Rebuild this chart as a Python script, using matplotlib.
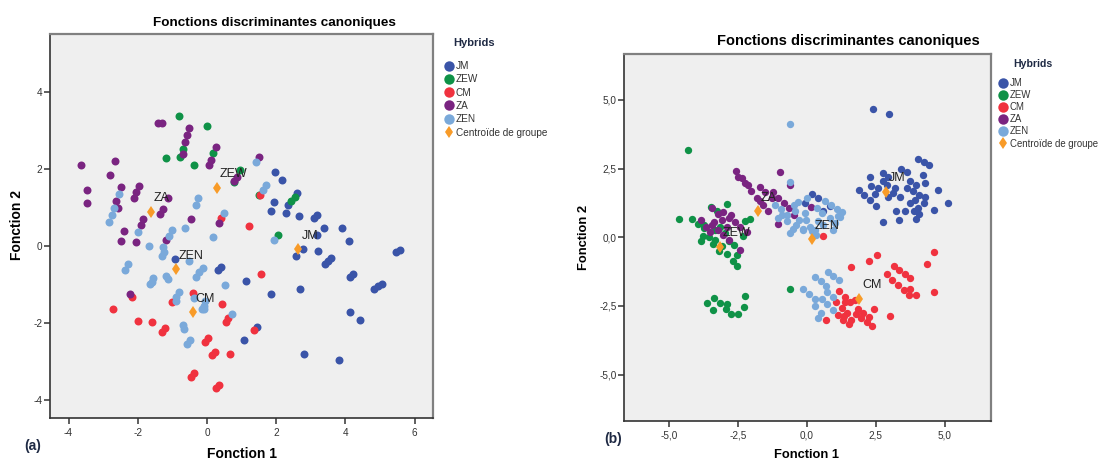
""" canonical discriminant function plots for two sets of hybrids """
from matplotlib import pyplot as plt
from matplotlib.lines import Line2D

plt.rcParams["font.family"] = ["Liberation Sans", "DejaVu Sans"]

WIDTH, HEIGHT = 1098, 462

groups = ["JM", "ZEW", "CM", "ZA", "ZEN"]
colors = ["#3a54a8", "#0f9247", "#f0323f", "#7a2481", "#7aa9da"]
centroid_label = "Centroïde de groupe"
centroid_color = "#f89b28"

# panel (a), values as (function 1, function 2)
a_jm = [(1.96, 1.93), (2.17, 1.70), (2.61, 1.38), (1.93, 1.14), (2.35, 1.06), (1.86, 0.91), (2.29, 0.84),
        (2.66, 0.78), (3.08, 0.71), (3.17, 0.81), (3.38, 0.46), (3.91, 0.46), (3.18, 0.29), (4.10, 0.13),
        (2.78, -0.08), (2.57, -0.26), (3.20, -0.13), (3.59, -0.32), (3.51, -0.40), (3.42, -0.48),
        (4.23, -0.74), (4.12, -0.80), (5.58, -0.10), (5.46, -0.16), (5.05, -0.99), (4.93, -1.05),
        (4.83, -1.12), (1.14, -0.91), (2.70, -1.11), (1.86, -1.25), (4.13, -1.72), (4.41, -1.93),
        (1.45, -2.12), (1.06, -2.44), (2.79, -2.82), (3.82, -2.97), (0.40, -0.54), (0.31, -0.63),
        (-0.93, -0.35)]
a_zew = [(-0.82, 3.36), (0.00, 3.11), (-0.70, 2.51), (-0.78, 2.30), (-1.18, 2.29), (-0.37, 2.09), (0.18, 2.40),
         (0.94, 1.97), (0.79, 1.67), (2.44, 1.17), (2.53, 1.28), (1.51, 1.32), (2.04, 0.28)]
a_cm = [(1.52, 1.32), (0.40, 0.72), (1.22, 0.51), (1.56, -0.74), (-2.16, -1.33), (-2.72, -1.65), (-2.00, -1.96),
        (-1.59, -1.98), (-1.20, -2.14), (-1.29, -2.25), (-1.00, -1.45), (-0.40, -1.23), (0.42, -1.50),
        (0.62, -1.88), (0.54, -1.97), (0.02, -2.40), (-0.06, -2.50), (0.22, -2.75), (0.14, -2.84), (0.66, -2.82),
        (-0.37, -3.31), (-0.45, -3.41), (0.35, -3.61), (0.25, -3.69), (1.36, -2.19)]
a_za = [(-3.63, 2.09), (-3.46, 1.45), (-3.48, 1.10), (-2.67, 2.20), (-2.80, 1.83), (-2.49, 1.52), (-2.62, 1.16),
        (-2.57, 0.99), (-1.97, 1.55), (-2.04, 1.39), (-2.11, 1.23), (-1.85, 0.69), (-1.92, 0.53), (-2.40, 0.38),
        (-1.14, 1.25), (-1.28, 0.96), (-1.36, 0.83), (-1.41, 3.18), (-1.30, 3.19), (-0.51, 3.07), (-0.58, 2.88),
        (-0.64, 2.70), (-0.68, 2.38), (0.26, 2.56), (0.12, 2.23), (0.05, 2.09), (-0.46, 0.70), (0.34, 0.59),
        (1.49, 2.30), (0.88, 1.80), (0.79, 1.69), (-2.47, 0.13), (-2.05, 0.11), (-1.18, 0.14), (-2.21, -1.25)]
a_zen = [(1.42, 2.18), (1.71, 1.57), (1.61, 1.44), (-2.54, 1.34), (-2.68, 0.97), (-2.75, 0.79), (-2.82, 0.61),
         (-0.25, 1.24), (-0.32, 1.06), (0.49, 0.86), (-0.64, 0.47), (-1.02, 0.41), (-1.10, 0.26), (-1.99, 0.37),
         (0.18, 0.22), (-1.67, 0.00), (-1.26, -0.02), (-1.24, -0.15), (-1.31, -0.26), (-2.28, -0.48), (-2.36, -0.64),
         (-0.51, -0.39), (-0.12, -0.58), (-0.22, -0.68), (-0.31, -0.80), (0.51, -1.02), (-1.55, -0.84), (-1.60, -0.93),
         (-1.65, -0.99), (-1.18, -0.78), (-1.14, -0.87), (-0.81, -1.20), (-0.90, -1.32), (-0.89, -1.42), (-0.37, -1.36),
         (-0.06, -1.43), (-0.09, -1.55), (-0.15, -1.64), (-0.08, -1.65), (0.73, -1.77), (-0.70, -2.05), (-0.67, -2.17),
         (-0.49, -2.45), (-0.59, -2.55), (1.95, 0.16)]
a_centroids = [(2.64, -0.08), (0.28, 1.51), (-0.41, -1.71), (-1.62, 0.89), (-0.90, -0.61)]
a_ticks_x = [-4, -2, 0, 2, 4, 6]
a_ticks_y = [-4, -2, 0, 2, 4]
a_ticklabels_x = ["-4", "-2", "0", "2", "4", "6"]
a_ticklabels_y = ["-4", "-2", "0", "2", "4"]

# panel (b)
b_jm = [(2.41, 4.67), (2.99, 4.48), (4.05, 2.84), (4.25, 2.74), (4.45, 2.63), (3.42, 2.48), (3.62, 2.38), (4.20, 2.26),
        (2.76, 2.33), (2.95, 2.21), (2.30, 2.18), (4.28, 1.99), (3.74, 2.04), (3.98, 1.91), (2.34, 1.86), (1.88, 1.72),
        (2.59, 1.78), (2.77, 2.03), (2.89, 1.91), (2.46, 1.57), (2.09, 1.53), (2.29, 1.35), (2.50, 1.15), (2.95, 1.45),
        (3.38, 1.45), (3.19, 1.78), (3.13, 1.60), (3.64, 1.81), (3.84, 1.69), (4.75, 1.71), (4.08, 1.54), (3.92, 1.36),
        (3.74, 1.26), (4.28, 1.45), (4.26, 1.24), (5.11, 1.26), (4.04, 1.06), (3.90, 0.97), (4.62, 1.00), (3.22, 0.95),
        (3.58, 0.94), (4.08, 0.84), (3.98, 0.66), (3.33, 0.61), (2.76, 0.55), (0.19, 1.57), (0.41, 1.42), (-0.06, 1.26),
        (0.83, 1.12), (0.59, 0.94)]
b_zew = [(-4.33, 3.16), (-4.64, 0.67), (-4.18, 0.66), (-3.98, 0.47), (-3.76, 0.33), (-3.74, 0.46), (-3.79, 0.03),
         (-3.86, -0.13), (-3.58, 0.01), (-3.34, -0.09), (-3.40, -0.25), (-3.50, 1.10), (-2.91, 1.22), (-3.28, 0.94),
         (-3.16, 0.39), (-3.34, 0.27), (-2.25, 0.59), (-2.08, 0.67), (-2.31, 0.03), (-2.64, -0.30), (-3.10, -0.33),
         (-3.19, -0.51), (-2.89, -0.60), (-2.53, -0.65), (-2.68, -0.85), (-2.54, -1.06), (-2.85, -0.15), (-2.97, 0.15),
         (-2.27, -2.14), (-3.37, -2.22), (-3.63, -2.39), (-3.18, -2.39), (-2.90, -2.42), (-3.42, -2.66), (-2.96, -2.60),
         (-2.30, -2.55), (-2.76, -2.78), (-2.49, -2.79), (-0.60, -1.87)]
b_cm = [(0.59, 0.05), (4.61, -0.55), (4.37, -0.98), (2.53, -0.66), (2.24, -0.87), (1.59, -1.08), (3.15, -1.06),
        (3.35, -1.21), (3.56, -1.34), (3.76, -1.49), (2.89, -1.34), (3.10, -1.54), (3.30, -1.72), (3.51, -1.91),
        (3.76, -1.89), (3.71, -2.09), (3.97, -2.11), (4.62, -1.99), (1.16, -1.97), (1.37, -2.17), (1.05, -2.37),
        (1.38, -2.37), (1.56, -2.34), (1.74, -2.28), (1.26, -2.57), (2.43, -2.62), (1.86, -2.62), (1.78, -2.79),
        (2.04, -2.74), (1.46, -2.74), (1.11, -2.82), (1.34, -2.88), (2.26, -2.91), (1.98, -2.94), (3.01, -2.85),
        (0.69, -3.02), (1.32, -3.00), (1.60, -3.02), (2.19, -3.09), (1.52, -3.17), (2.38, -3.22)]
b_za = [(-2.59, 2.41), (-2.49, 2.19), (-2.37, 2.16), (-2.24, 1.99), (-2.16, 1.89), (-2.03, 1.70), (-1.70, 1.83),
        (-1.52, 1.63), (-1.24, 1.63), (-0.97, 2.38), (-0.62, 1.91), (-1.83, 1.44), (-1.70, 1.33), (-1.61, 1.18),
        (-1.40, 0.94), (-1.04, 1.43), (-1.28, 1.43), (-0.83, 1.24), (-0.65, 1.05), (-1.05, 0.49), (0.13, 1.09),
        (-0.49, 0.82), (-3.45, 1.07), (-3.04, 0.93), (-3.22, 0.83), (-2.77, 0.81), (-2.84, 0.70), (-3.10, 0.62),
        (-3.87, 0.61), (-3.37, 0.55), (-3.46, 0.46), (-2.61, 0.54), (-3.66, 0.36), (-3.52, 0.18), (-3.25, 0.27),
        (-2.89, 0.37), (-2.43, 0.36), (-2.19, 0.18), (-3.06, 0.09), (-2.85, -0.09), (-2.43, -0.48)]
b_zen = [(-0.63, 2.01), (-0.62, 4.14), (-1.16, 1.18), (-0.95, 1.03), (-1.04, 0.70), (-0.92, 0.82), (-0.74, 0.82),
         (-0.72, 0.58), (-0.49, 1.18), (-0.31, 1.27), (-0.01, 1.43), (-0.43, 0.94), (-0.07, 0.90), (-0.28, 0.64),
         (-0.05, 0.64), (-0.16, 0.30), (-0.62, 0.15), (-0.52, 0.30), (-0.40, 0.46), (0.11, 0.39), (0.17, 0.21),
         (0.32, 0.09), (0.41, 0.58), (0.57, 0.46), (0.65, 1.33), (0.86, 1.18), (1.08, 1.04), (0.35, 1.06), (0.53, 0.88),
         (0.84, 0.70), (1.14, 0.76), (0.96, 0.25), (1.27, 0.91), (1.20, 0.75), (1.02, 0.51), (-0.13, 0.27), (0.29, 0.27),
         (0.75, -1.28), (0.96, -1.40), (1.16, -1.55), (0.29, -1.43), (0.50, -1.61), (0.70, -1.79), (-0.13, -1.89),
         (0.73, -2.01), (0.07, -2.07), (0.29, -2.25), (0.53, -2.25), (0.96, -2.16), (0.74, -2.43), (0.28, -2.52),
         (0.93, -2.64), (0.50, -2.74), (0.40, -2.93)]
b_centroids = [(2.87, 1.66), (-3.16, -0.34), (1.90, -2.23), (-1.78, 0.95), (0.17, -0.06)]
b_ticks = [-5.0, -2.5, 0.0, 2.5, 5.0]
b_ticklabels = ["-5,0", "-2,5", "0,0", "2,5", "5,0"]


def draw_panel(box, xlim, ylim, series, centroids, xticks, xticklabels, yticks, yticklabels,
               title_xy, xlabel_xy, ylabel_xy, tag, tag_xy, hybrids_xy, legend_xy,
               dot_size, title_size, label_size, hybrids_size, legend_size, legend_spacing):
    """ draw one scatter panel, box and *_xy are given in image pixels """
    _left, _top, _right, _bottom = box
    ax = fig.add_axes([_left/WIDTH, 1-_bottom/HEIGHT, (_right-_left)/WIDTH, (_bottom-_top)/HEIGHT])
    ax.set_facecolor("#efefef")
    ax.set_xlim(xlim)
    ax.set_ylim(ylim)

    # later groups sit on top of earlier ones
    for _points, _color in zip(series, colors):
        ax.scatter([p[0] for p in _points], [p[1] for p in _points], s=dot_size, color=_color,
                   linewidths=0, zorder=3)

    # group centroids and their names
    for _name, _c in zip(groups, centroids):
        ax.plot(_c[0], _c[1], marker="d", markersize=6.5, markeredgewidth=0, color=centroid_color, zorder=4)
        ax.annotate(_name, xy=_c, xytext=(2.2, 9.5), textcoords="offset points", fontsize=9,
                    color="#222222", va="center", ha="left", zorder=5)

    ax.set_xticks(xticks)
    ax.set_xticklabels(xticklabels)
    ax.set_yticks(yticks)
    ax.set_yticklabels(yticklabels)
    ax.tick_params(length=4, width=1.1, labelsize=7.2, colors="#333333")
    ax.tick_params(axis="x", pad=3)
    ax.tick_params(axis="y", pad=1)

    for _side in ["left", "bottom"]:
        ax.spines[_side].set_linewidth(1.2)
        ax.spines[_side].set_color("#333333")
    for _side in ["top", "right"]:
        ax.spines[_side].set_linewidth(1.6)
        ax.spines[_side].set_color("#808080")

    # title, axis names and the panel tag
    fig.text(title_xy[0]/WIDTH, 1-title_xy[1]/HEIGHT, "Fonctions discriminantes canoniques",
             fontsize=title_size, fontweight="bold", ha="center", va="center")
    fig.text(xlabel_xy[0]/WIDTH, 1-xlabel_xy[1]/HEIGHT, "Fonction 1",
             fontsize=label_size, fontweight="bold", ha="center", va="center")
    fig.text(ylabel_xy[0]/WIDTH, 1-ylabel_xy[1]/HEIGHT, "Fonction 2",
             fontsize=label_size, fontweight="bold", ha="center", va="center", rotation=90)
    fig.text(tag_xy[0]/WIDTH, 1-tag_xy[1]/HEIGHT, tag,
             fontsize=10, fontweight="bold", color="#1f2a44", ha="center", va="center")

    # legend
    fig.text(hybrids_xy[0]/WIDTH, 1-hybrids_xy[1]/HEIGHT, "Hybrids",
             fontsize=hybrids_size, fontweight="bold", color="#1f2a44", ha="left", va="center")
    _handles = [Line2D([], [], linestyle="", marker="o", markersize=7.5, markeredgewidth=0, color=c) for c in colors]
    _handles.append(Line2D([], [], linestyle="", marker="d", markersize=6.5, markeredgewidth=0, color=centroid_color))
    fig.legend(_handles, groups+[centroid_label], loc="upper left", frameon=False, fontsize=legend_size,
               bbox_to_anchor=(legend_xy[0]/WIDTH, 1-legend_xy[1]/HEIGHT), borderpad=0, borderaxespad=0,
               labelspacing=legend_spacing, handlelength=1.0, handletextpad=0.2, labelcolor="#333333")
    return ax


fig = plt.figure(figsize=(WIDTH/100, HEIGHT/100), dpi=100)

draw_panel((49.5, 34, 433, 418), (-4.55, 6.53), (-4.47, 5.5),
           [a_jm, a_zew, a_cm, a_za, a_zen], a_centroids,
           a_ticks_x, a_ticklabels_x, a_ticks_y, a_ticklabels_y,
           (274, 23), (242, 454), (17, 225), "(a)", (33, 446), (453, 43), (444, 61),
           dot_size=33, title_size=9.7, label_size=10, hybrids_size=8,
           legend_size=7.2, legend_spacing=0.33)

draw_panel((623.5, 54, 990.5, 420.5), (-6.67, 6.67), (-6.67, 6.67),
           [b_jm, b_zew, b_cm, b_za, b_zen], b_centroids,
           b_ticks, b_ticklabels, b_ticks, b_ticklabels,
           (848, 41), (807, 455), (584, 237), "(b)", (613, 439), (1013, 64), (998, 78),
           dot_size=28, title_size=10.5, label_size=9.3, hybrids_size=7.6,
           legend_size=6.9, legend_spacing=0.22)

fig.savefig("out.png", dpi=100)
